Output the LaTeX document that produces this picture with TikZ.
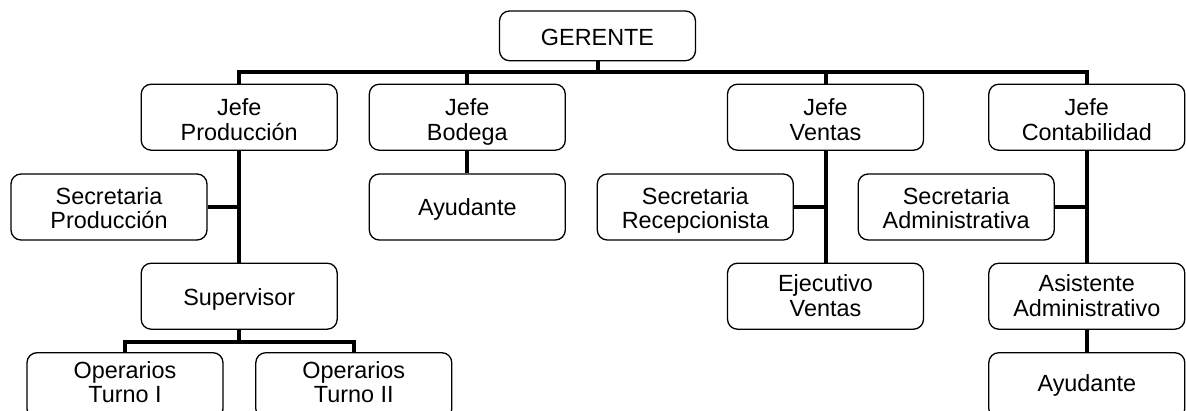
\documentclass[tikz,border=0pt]{standalone}
\usepackage{fontspec}
\setmainfont{Liberation Sans}
\begin{document}
\begin{tikzpicture}[x=1pt,y=-1pt,
  box/.style={draw=black, line width=1.3pt, rounded corners=10pt, fill=white,
    minimum width=196pt, minimum height=66pt, inner sep=0pt, align=center,
    font=\fontsize{23.4}{24.4}\selectfont, text depth=0pt},
  conn/.style={draw=black, line width=4pt, line join=miter}]
\useasboundingbox (0,0) rectangle (1186,410);
\clip (0,0) rectangle (1186,410);
% nodes
\node[box, text height=19.7pt, minimum height=49.7pt] (G) at (597.5,35.85) {GERENTE};
\node[box, text height=45.8pt] (JP) at (239.2,117.2) {Jefe\\Producción};
\node[box, text height=45.8pt] (JB) at (467.3,117.2) {Jefe\\Bodega};
\node[box, text height=45.8pt] (JV) at (825.5,117.2) {Jefe\\Ventas};
\node[box, text height=45.8pt] (JC) at (1086.8,117.2) {Jefe\\Contabilidad};
\node[box, text height=42.8pt] (SP) at (109,207) {Secretaria\\Producción};
\node[box, text height=16pt] (AB) at (467.3,207) {Ayudante};
\node[box, text height=42.8pt] (SR) at (695.3,207) {Secretaria\\Recepcionista};
\node[box, text height=42.8pt] (SA) at (956.2,207) {Secretaria\\Administrativa};
\node[box, text height=17.6pt] (SU) at (239.2,296.2) {Supervisor};
\node[box, text height=39.8pt] (EV) at (825.5,296.2) {Ejecutivo\\Ventas};
\node[box, text height=39.8pt] (AA) at (1086.8,296.2) {Asistente\\Administrativo};
\node[box, text height=34.4pt] (O1) at (125,385.7) {Operarios\\Turno I};
\node[box, text height=34.4pt] (O2) at (353.8,385.7) {Operarios\\Turno II};
\node[box, text height=12pt] (AC) at (1086.8,385.7) {Ayudante};
% bus levels
\coordinate (bus) at (0,71.7);
\coordinate (sbus) at (0,341.7);
% connectors
\draw[conn] (JP.north) -- (JP.north |- bus) -- (JC.north |- bus) -- (JC.north);
\draw[conn] (G.south) -- (G.south |- bus);
\draw[conn] (JB.north) -- (JB.north |- bus);
\draw[conn] (JV.north) -- (JV.north |- bus);
\draw[conn] (JP.south) -- (SU.north);
\draw[conn] (SP.east) -- (SP.east -| JP.south);
\draw[conn] (JB.south) -- (AB.north);
\draw[conn] (JV.south) -- (EV.north);
\draw[conn] (SR.east) -- (SR.east -| JV.south);
\draw[conn] (JC.south) -- (AA.north);
\draw[conn] (SA.east) -- (SA.east -| JC.south);
\draw[conn] (AA.south) -- (AC.north);
\draw[conn] (SU.south) -- (SU.south |- sbus);
\draw[conn] (O1.north) -- (O1.north |- sbus) -- (O2.north |- sbus) -- (O2.north);
\end{tikzpicture}
\end{document}
